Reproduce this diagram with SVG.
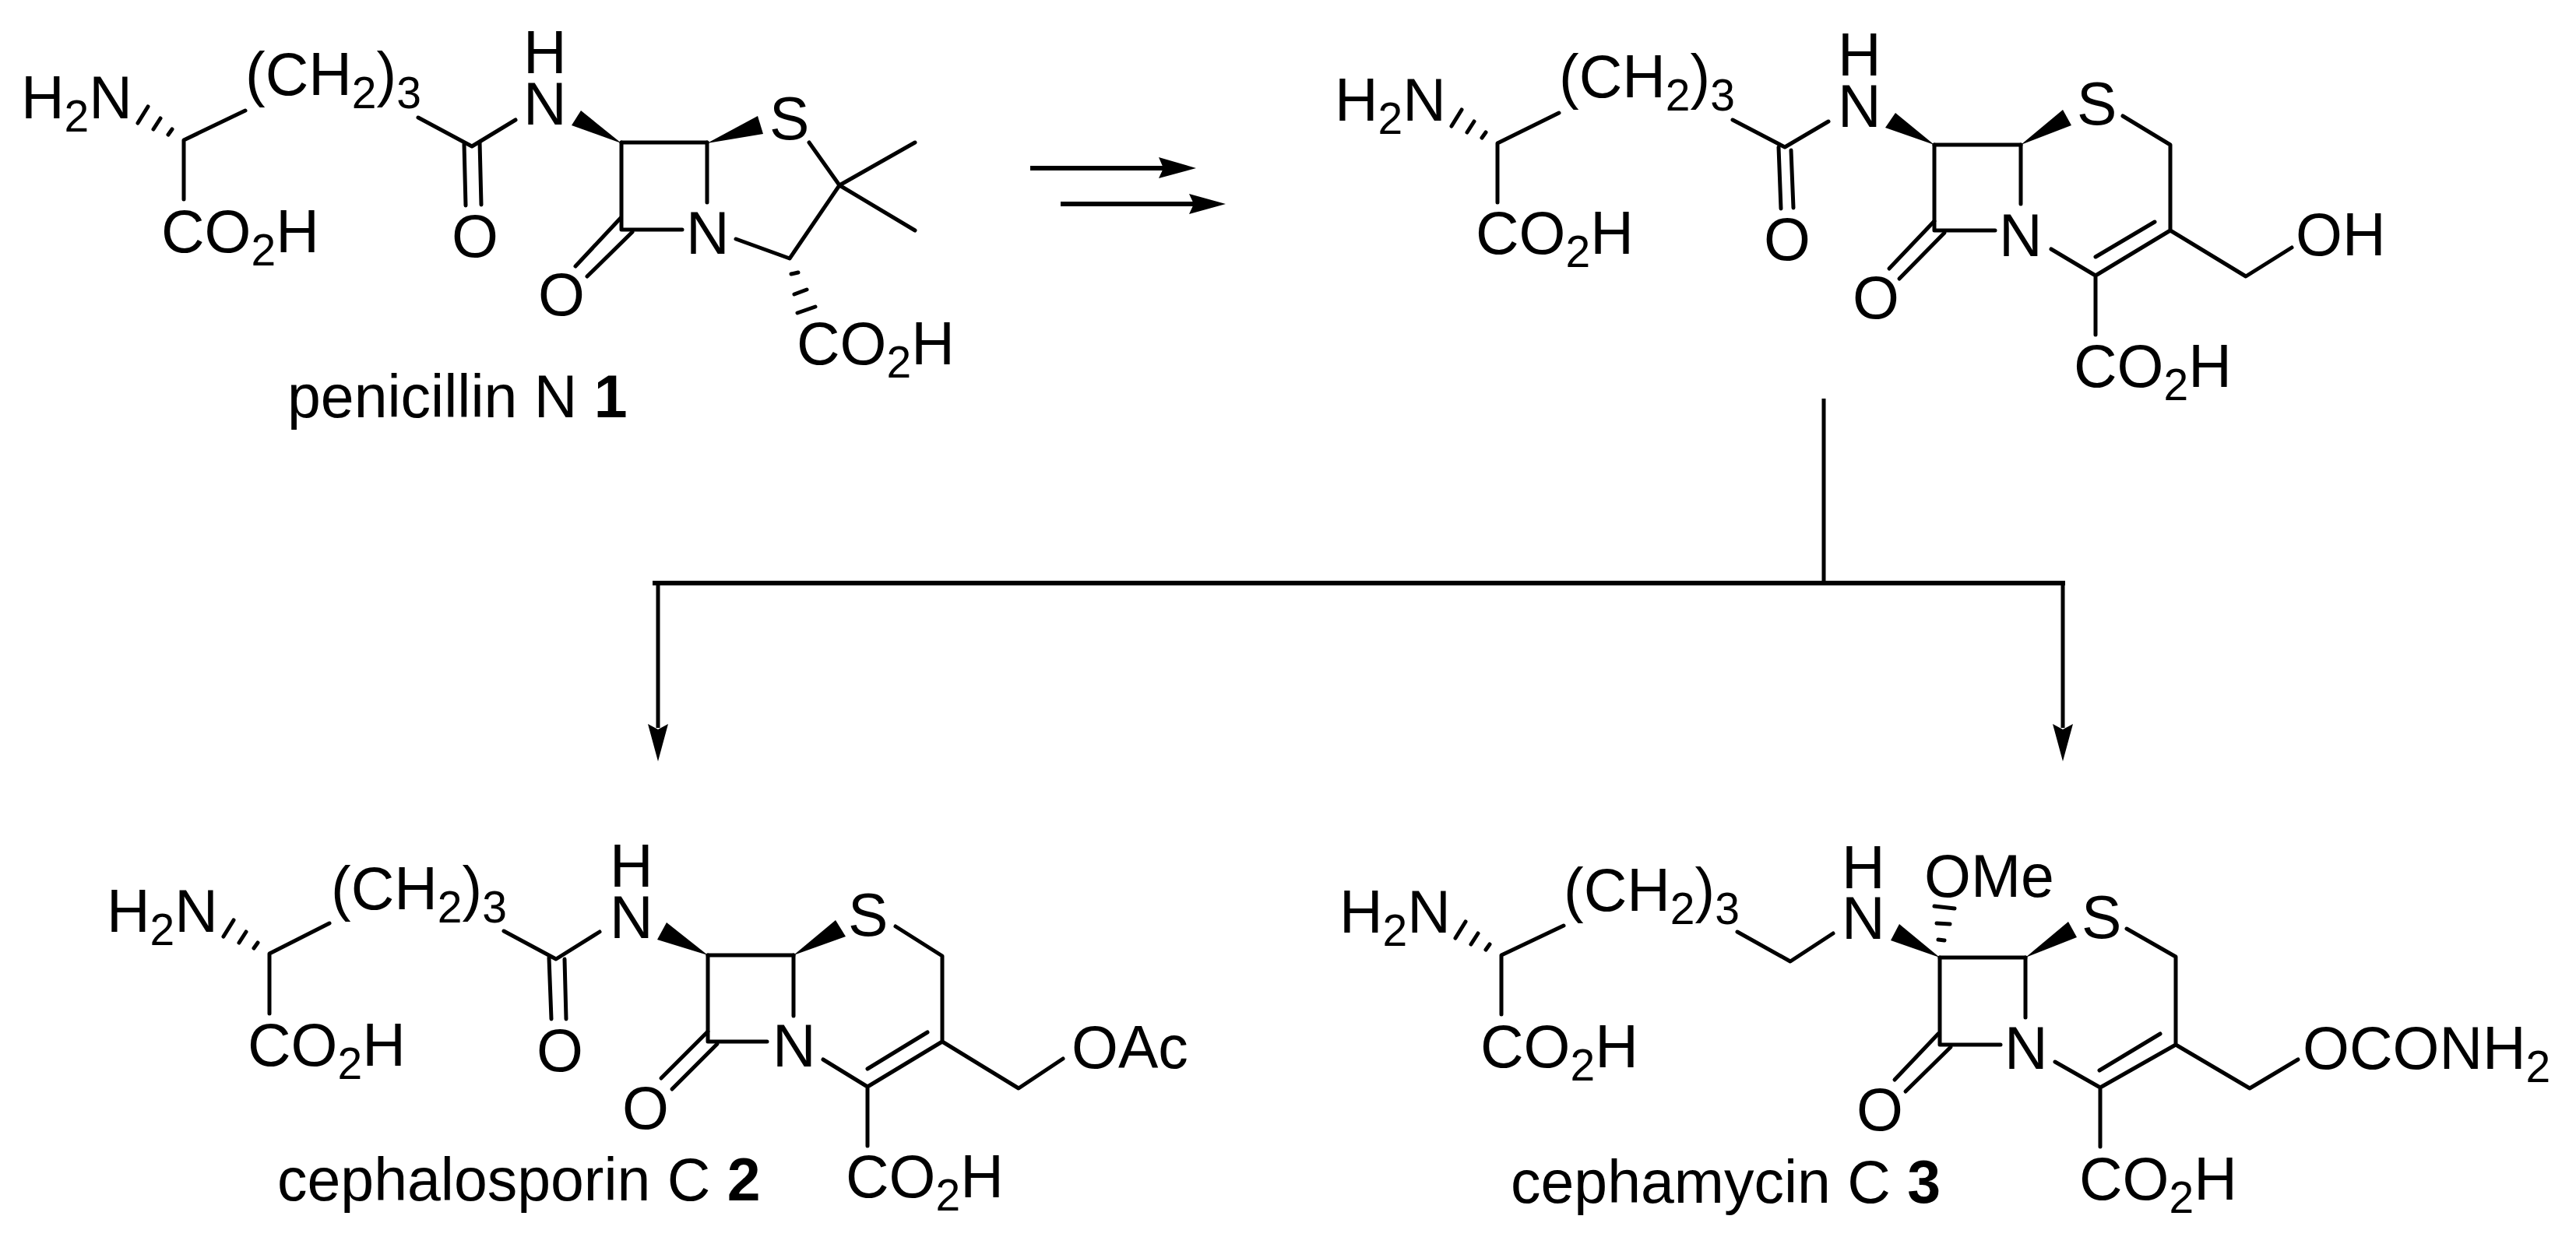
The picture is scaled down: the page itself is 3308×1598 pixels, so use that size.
<svg xmlns="http://www.w3.org/2000/svg" width="3308" height="1598" viewBox="0 0 3308 1598">
<style>
text{font-family:"Liberation Sans",Arial,sans-serif;font-size:77px;fill:#000}
.s{font-size:57px}
.b{font-weight:bold}
.l{fill:none;stroke:#000;stroke-width:5;stroke-linecap:round;stroke-linejoin:round}
.c{fill:none;stroke:#000;stroke-width:5}
.t{stroke-width:6}
.f{fill:#000;stroke:none}
</style>
<rect width="3308" height="1598" fill="#fff"/>
<g id="connectors">
<path class="c t" d="M1323 216H1500"/>
<path class="f" d="M1536 216L1488 202L1494 216L1488 229Z"/>
<path class="c t" d="M1362 262H1540"/>
<path class="f" d="M1574 262L1527 249L1533 262L1527 275Z"/>
<path class="c" d="M2342 512V749"/>
<path class="c t" d="M838 749H2652"/>
<path class="c" d="M845 749V935"/>
<path class="f" d="M845 978L832 930L845 937L858 930Z"/>
<path class="c" d="M2649 749V935"/>
<path class="f" d="M2649 978L2636 930L2649 937L2662 930Z"/>
</g>
<g id="penicillin-n">
<path class="l" d="M315 142L236 180V256"/>
<path class="l" d="M177 158L190 137M197 166L206 152M216 173L221 166"/>
<path class="l" d="M537 151L606 188L662 154"/>
<path class="l" d="M596 185L598 264M616 182L618 263"/>
<path class="f" d="M798 184L746 142L734 161Z"/>
<path class="f" d="M908 184L973 149L980 172Z"/>
<path class="l" d="M798 183H908"/>
<path class="l" d="M798 183V295H876M908 183V260"/>
<path class="l" d="M797 280L739 342M812 298L754 355"/>
<path class="l" d="M1039 183L1078 238L1014 332L945 307M1078 238L1175 183M1078 238L1175 296"/>
<path class="l" d="M1016 352L1025 350M1020 378L1036 372M1024 402L1047 394"/>
<text x="27" y="152">H<tspan class="s" dy="17">2</tspan><tspan dy="-17">N</tspan></text>
<text x="315" y="122">(CH<tspan class="s" dy="17">2</tspan><tspan dy="-17">)</tspan><tspan class="s" dy="17">3</tspan></text>
<text x="207" y="324">CO<tspan class="s" dy="17">2</tspan><tspan dy="-17">H</tspan></text>
<text x="580" y="330">O</text>
<text><tspan x="672" y="94">H</tspan><tspan x="672" y="160">N</tspan></text>
<text x="881" y="326">N</text>
<text x="691" y="405">O</text>
<text x="988" y="179">S</text>
<text x="1023" y="468">CO<tspan class="s" dy="17">2</tspan><tspan dy="-17">H</tspan></text>
<text x="369" y="536">penicillin N <tspan class="b">1</tspan></text>
</g>
<g id="intermediate">
<path class="l" d="M2002 145L1923 184V260"/>
<path class="l" d="M1864 162L1877 141M1884 170L1893 156M1903 177L1908 170"/>
<path class="l" d="M2225 154L2292 189L2348 156"/>
<path class="l" d="M2284 189L2287 268M2300 193L2303 267"/>
<path class="f" d="M2484 186L2434 145L2421 164Z"/>
<path class="f" d="M2595 186L2649 141L2660 161Z"/>
<path class="l" d="M2484 186H2595"/>
<path class="l" d="M2484 186V296H2562M2595 186V262"/>
<path class="l" d="M2484 284L2426 345M2497 299L2439 358"/>
<path class="l" d="M2726 149L2787 186V296L2691 354L2634 320M2767 285L2691 330M2691 354V430M2787 296L2884 355L2943 318"/>
<text x="1714" y="155">H<tspan class="s" dy="17">2</tspan><tspan dy="-17">N</tspan></text>
<text x="2002" y="125">(CH<tspan class="s" dy="17">2</tspan><tspan dy="-17">)</tspan><tspan class="s" dy="17">3</tspan></text>
<text x="1895" y="326">CO<tspan class="s" dy="17">2</tspan><tspan dy="-17">H</tspan></text>
<text x="2265" y="334">O</text>
<text><tspan x="2360" y="97">H</tspan><tspan x="2360" y="163">N</tspan></text>
<text x="2567" y="329">N</text>
<text x="2379" y="409">O</text>
<text x="2667" y="160">S</text>
<text x="2663" y="497">CO<tspan class="s" dy="17">2</tspan><tspan dy="-17">H</tspan></text>
<text x="2948" y="328">OH</text>
</g>
<g id="cephalosporin-c">
<path class="l" d="M423 1186L346 1225V1302"/>
<path class="l" d="M287 1203L300 1182M307 1211L316 1197M326 1218L331 1211"/>
<path class="l" d="M647 1196L714 1232L770 1197"/>
<path class="l" d="M705 1230L708 1309M725 1232L727 1309"/>
<path class="f" d="M909 1227L856 1185L844 1207Z"/>
<path class="f" d="M1019 1227L1073 1182L1086 1203Z"/>
<path class="l" d="M909 1227H1019"/>
<path class="l" d="M909 1227V1338H985M1019 1227V1305"/>
<path class="l" d="M909 1325L849 1385M921 1341L863 1399"/>
<path class="l" d="M1150 1190L1210 1228V1338L1114 1396L1057 1361M1191 1326L1114 1373M1114 1396V1472M1210 1338L1308 1398L1365 1360"/>
<text x="137" y="1197">H<tspan class="s" dy="17">2</tspan><tspan dy="-17">N</tspan></text>
<text x="425" y="1168">(CH<tspan class="s" dy="17">2</tspan><tspan dy="-17">)</tspan><tspan class="s" dy="17">3</tspan></text>
<text x="318" y="1369">CO<tspan class="s" dy="17">2</tspan><tspan dy="-17">H</tspan></text>
<text x="689" y="1376">O</text>
<text><tspan x="783" y="1139">H</tspan><tspan x="783" y="1205">N</tspan></text>
<text x="992" y="1370">N</text>
<text x="799" y="1450">O</text>
<text x="1089" y="1202">S</text>
<text x="1086" y="1538">CO<tspan class="s" dy="17">2</tspan><tspan dy="-17">H</tspan></text>
<text x="1376" y="1372">OAc</text>
<text x="356" y="1542">cephalosporin C <tspan class="b">2</tspan></text>
</g>
<g id="cephamycin-c">
<path class="l" d="M2008 1189L1928 1227V1303"/>
<path class="l" d="M1869 1205L1882 1184M1889 1213L1898 1199M1908 1220L1913 1213"/>
<path class="l" d="M2231 1197L2299 1235L2354 1199"/>
<path class="f" d="M2491 1230L2439 1187L2428 1208Z"/>
<path class="f" d="M2601 1230L2656 1184L2667 1204Z"/>
<path class="l" d="M2489 1207L2497 1208M2487 1186L2504 1187M2484 1164L2510 1167"/>
<path class="l" d="M2491 1230H2601"/>
<path class="l" d="M2491 1230V1342H2569M2601 1230V1307"/>
<path class="l" d="M2489 1328L2433 1387M2505 1345L2447 1402"/>
<path class="l" d="M2731 1193L2794 1229V1342L2697 1397L2639 1364M2774 1328L2696 1375M2697 1397V1473M2794 1342L2889 1398L2951 1361"/>
<text x="1720" y="1198">H<tspan class="s" dy="17">2</tspan><tspan dy="-17">N</tspan></text>
<text x="2008" y="1170">(CH<tspan class="s" dy="17">2</tspan><tspan dy="-17">)</tspan><tspan class="s" dy="17">3</tspan></text>
<text x="1901" y="1371">CO<tspan class="s" dy="17">2</tspan><tspan dy="-17">H</tspan></text>
<text><tspan x="2365" y="1141">H</tspan><tspan x="2365" y="1206">N</tspan></text>
<text x="2471" y="1152">OMe</text>
<text x="2574" y="1373">N</text>
<text x="2384" y="1452">O</text>
<text x="2673" y="1205">S</text>
<text x="2670" y="1541">CO<tspan class="s" dy="17">2</tspan><tspan dy="-17">H</tspan></text>
<text x="2957" y="1373">OCONH<tspan class="s" dy="17">2</tspan></text>
<text x="1940" y="1545">cephamycin C <tspan class="b">3</tspan></text>
</g>
</svg>
